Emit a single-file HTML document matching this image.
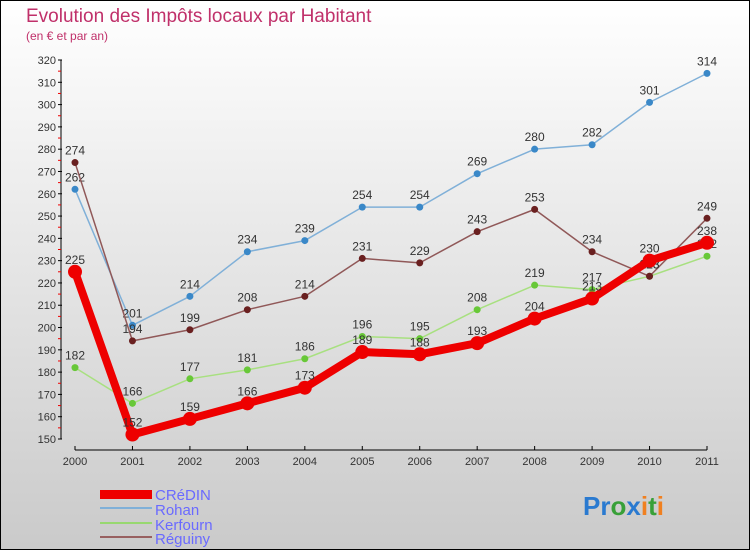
<!DOCTYPE html>
<html><head><meta charset="utf-8"><style>
body{margin:0}
#c{width:750px;height:550px;position:relative;font-family:"Liberation Sans",sans-serif}
</style></head><body>
<div id="c">
<svg id="s" width="750" height="550" xmlns="http://www.w3.org/2000/svg">
<defs><linearGradient id="bg" x1="0" y1="0" x2="0" y2="1"><stop offset="0" stop-color="#ffffff"/><stop offset="1" stop-color="#cacaca"/></linearGradient></defs>
<rect x="0.5" y="0.5" width="749" height="549" fill="url(#bg)" stroke="#000"/>
<text x="26" y="22" font-size="19" fill="#c0306a">Evolution des Impôts locaux par Habitant</text>
<text x="26" y="40" font-size="12" fill="#c0306a">(en € et par an)</text>
<g id="axes"></g><g id="series"></g>
<g font-size="15" fill="#6a6aff">
<rect x="100" y="490" width="52" height="9" fill="#e00"/>
<text x="155" y="500">CRéDIN</text>
<line x1="100" y1="508" x2="152" y2="508" stroke="#80b0d8" stroke-width="2"/>
<text x="155" y="515">Rohan</text>
<line x1="100" y1="523" x2="152" y2="523" stroke="#98d870" stroke-width="2"/>
<text x="155" y="530">Kerfourn</text>
<line x1="100" y1="537" x2="152" y2="537" stroke="#986060" stroke-width="2"/>
<text x="155" y="544">Réguiny</text>
</g>
<text x="583" y="515" font-size="26" font-weight="bold"><tspan fill="#2a7ad0">Pr</tspan><tspan fill="#38a038">o</tspan><tspan fill="#2a7ad0">x</tspan><tspan fill="#f08020">i</tspan><tspan fill="#38a038">t</tspan><tspan fill="#f08020">i</tspan></text>
</svg></div>
<script>
const years=[2000,2001,2002,2003,2004,2005,2006,2007,2008,2009,2010,2011];
const credin=[225,152,159,166,173,189,188,193,204,213,230,238];
const rohan=[262,201,214,234,239,254,254,269,280,282,301,314];
const kerfourn=[182,166,177,181,186,196,195,208,219,217,223,232];
const reguiny=[274,194,199,208,214,231,229,243,253,234,223,249];
const yTicks=[150,160,170,180,190,200,210,220,230,240,250,260,270,280,290,300,310,320];
const NS="http://www.w3.org/2000/svg";
function xS(i){return 75+i*(707-75)/11;}
function yS(v){return 439-(v-150)*(439-60)/170;}
function el(t,a,p){const e=document.createElementNS(NS,t);for(const k in a)e.setAttribute(k,a[k]);p.appendChild(e);return e;}
const ax=document.getElementById('axes');
el('line',{x1:61,y1:yS(320),x2:61,y2:yS(150),stroke:'#000'},ax);
yTicks.forEach(v=>{
 el('line',{x1:58,y1:yS(v),x2:62,y2:yS(v),stroke:'#000'},ax);
 el('line',{x1:58,y1:yS(v+5),x2:61,y2:yS(v+5),stroke:'#e00'},ax).setAttribute('visibility',v<320?'visible':'hidden');
 const t=el('text',{x:56,y:yS(v)+4,'text-anchor':'end','font-size':11,fill:'#333'},ax);t.textContent=v;
 
 
});
el('line',{x1:75,y1:450,x2:707,y2:450,stroke:'#000'},ax);
years.forEach((y,i)=>{
 el('line',{x1:xS(i),y1:446,x2:xS(i),y2:450,stroke:'#000'},ax);
 const t=el('text',{x:xS(i),y:465,'text-anchor':'middle','font-size':11,fill:'#333'},ax);t.textContent=y;
 
 
});
const sg=document.getElementById('series');
function draw(vals,name,color,dot,w,r){
 const g=el('g',{},sg);
 
 
 el('polyline',{points:vals.map((v,i)=>xS(i)+','+yS(v)).join(' '),fill:'none',stroke:color,'stroke-width':w,'stroke-linejoin':'round'},g);
 vals.forEach((v,i)=>{
  const c=el('circle',{cx:xS(i),cy:yS(v),r:r,fill:dot},g);
  
  
  const t=el('text',{x:xS(i),y:yS(v)-8,'text-anchor':'middle','font-size':12,fill:'#333'},g);t.textContent=v;
  
  
 });
}
draw(rohan,'rohan','#80b0d8','#3a88c8',1.5,3.5);
draw(kerfourn,'kerfourn','#a8e080','#68c838',1.5,3.5);
draw(reguiny,'reguiny','#905858','#6a2020',1.5,3.5);
draw(credin,'credin','#ee0000','#ee0000',8,7);
</script>
</body></html>
